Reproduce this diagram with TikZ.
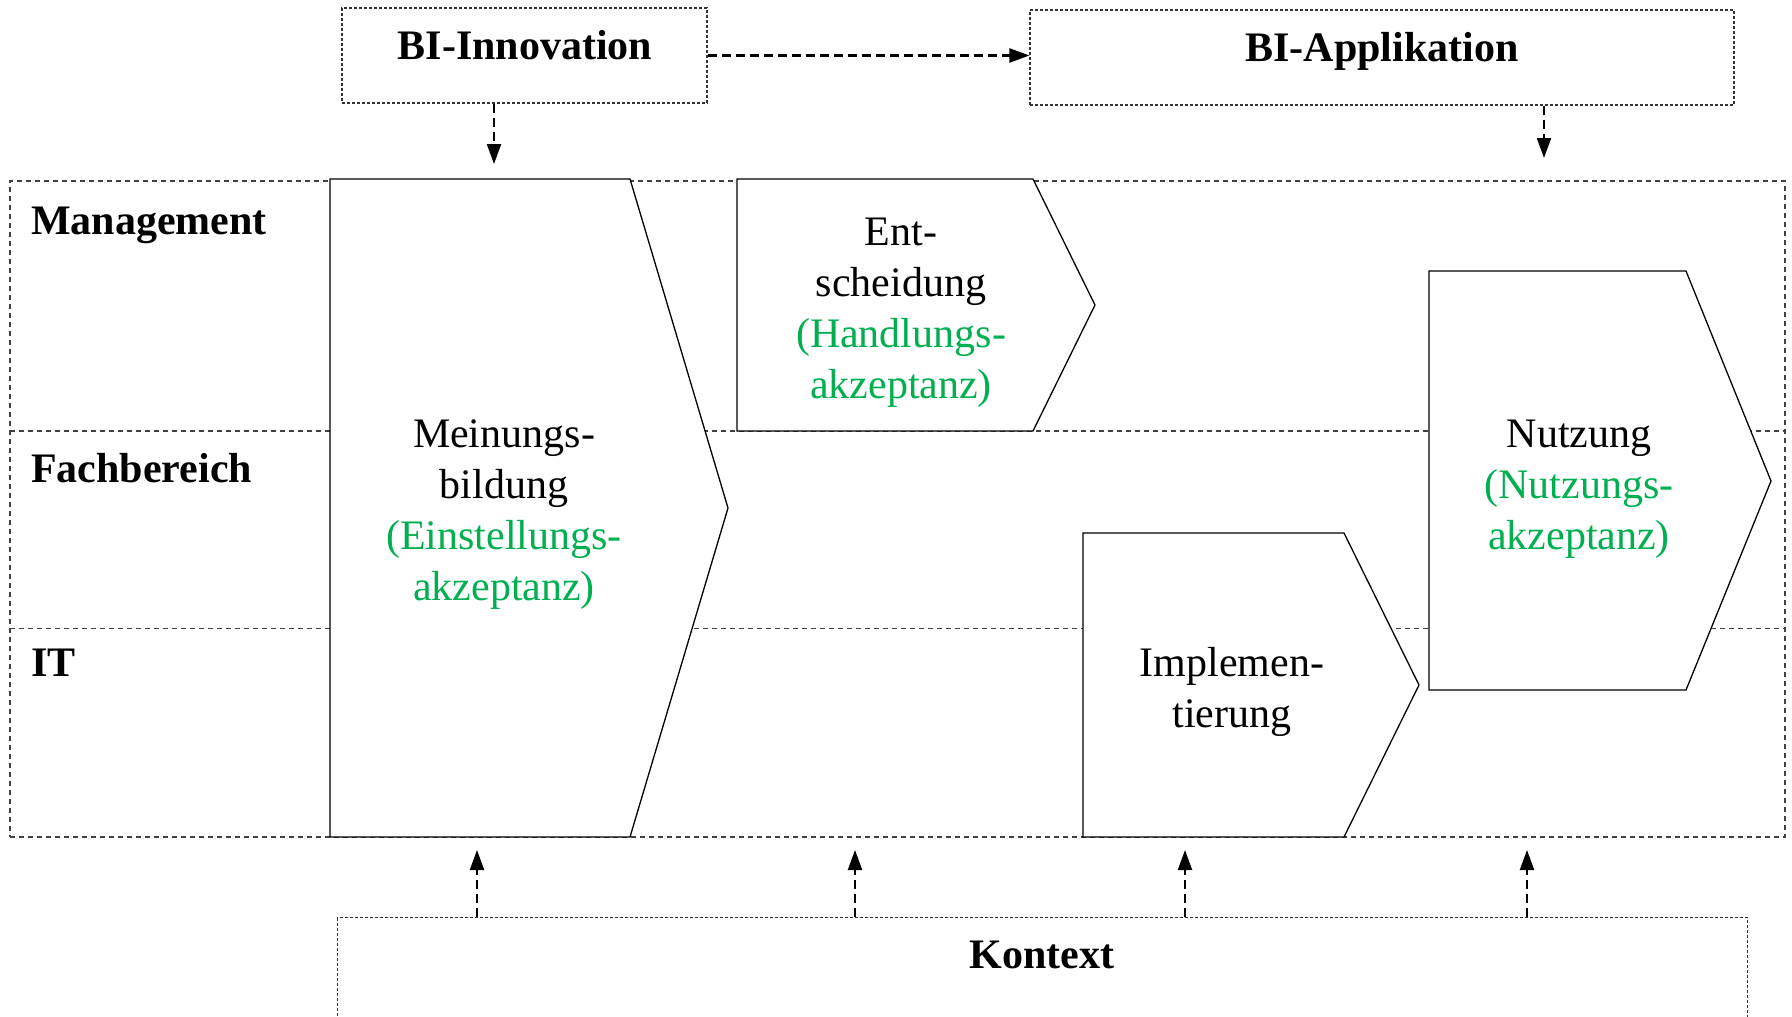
\documentclass[tikz,border=0pt]{standalone}
\usepackage{fontspec}
\setmainfont{Liberation Serif}
\usetikzlibrary{arrows.meta}
\definecolor{accgreen}{RGB}{0,176,80}
\begin{document}
\begin{tikzpicture}[x=1pt,y=-1pt,
  phase/.style={draw=black, line width=1.3pt, fill=white, line join=miter},
  phasetext/.style={align=center, inner sep=0pt, font=\fontsize{42}{51}\selectfont},
  lanelabel/.style={anchor=base west, inner sep=0pt, font=\bfseries\fontsize{42}{51}\selectfont},
  frame/.style={draw=black!75, line width=1.3pt, dash pattern=on 5pt off 4pt},
  headbox/.style={draw=black!80, line width=1.2pt, dash pattern=on 3pt off 2pt, inner sep=0pt},
  headtext/.style={inner sep=0pt, font=\bfseries\fontsize{42}{51}\selectfont},
  flow/.style={-{Triangle[length=20pt,width=14pt]}, line width=2.2pt, dash pattern=on 9pt off 5pt},
  accept/.style={text=accgreen}]
\useasboundingbox (0,0) rectangle (1792,1017);

% upper frame boxes
\node[headbox, minimum width=365pt, minimum height=95pt] (inno) at (524.5,55.5) {};
\node[headtext] (innotext) at (525,45) {BI-Innovation};
\node[headbox, minimum width=704pt, minimum height=95pt] (appl) at (1382,57.5) {};
\node[headtext] (appltext) at (1382,51) {BI-Applikation};

% swim lanes
\node[frame, minimum width=1775pt, minimum height=656pt, inner sep=0pt] (lanes) at (897.5,509) {};
\coordinate (sepA) at (10,431);
\coordinate (sepB) at (10,628.5);
\draw[frame] (sepA) -- (sepA -| lanes.east);
\draw[frame] (sepB) -- (sepB -| lanes.east);
\node[lanelabel] (lmgmt) at (31,234) {Management};
\node[lanelabel] (lfach) at (31,482) {Fachbereich};
\node[lanelabel] (lit) at (31,676) {IT};

% phases
\draw[phase] (330,179) -- (630,179) -- (728,508) -- (630,837) -- (330,837) -- cycle;
\node[phasetext] (meinung) at (504,515) {Meinungs-\\bildung\\\textcolor{accgreen}{(Einstellungs-}\\\textcolor{accgreen}{akzeptanz)}};

\draw[phase] (737,179) -- (1033,179) -- (1095,305) -- (1033,431) -- (737,431) -- cycle;
\node[phasetext] (entscheid) at (901,313) {Ent-\\scheidung\\\textcolor{accgreen}{(Handlungs-}\\\textcolor{accgreen}{akzeptanz)}};

\draw[phase] (1083,533) -- (1344,533) -- (1419,685) -- (1344,837) -- (1083,837) -- cycle;
\node[phasetext] (implement) at (1232,692) {Implemen-\\tierung};

\draw[phase] (1429,271) -- (1686,271) -- (1771,481) -- (1686,690) -- (1429,690) -- cycle;
\node[phasetext] (nutzung) at (1579,489) {Nutzung\\\textcolor{accgreen}{(Nutzungs-}\\\textcolor{accgreen}{akzeptanz)}};

% context box (open towards the bottom edge)
\node[headbox, minimum width=1410pt, minimum height=200pt, anchor=north west] (kontext) at (337,917) {};
\node[headtext] (kontexttext) at (1042,955) {Kontext};

% influences
\draw[flow] (inno.east) -- (inno.east -| appl.west);
\coordinate (inA) at (494,164);
\coordinate (inB) at (1544,158);
\draw[flow] (inno.south -| inA) -- (inA);
\draw[flow] (appl.south -| inB) -- (inB);
\foreach \name/\xx in {ctxA/477, ctxB/855, ctxC/1185, ctxD/1527} {
  \coordinate (\name) at (\xx,850);
  \draw[flow] (kontext.north -| \name) -- (\name);
}
\end{tikzpicture}
\end{document}
